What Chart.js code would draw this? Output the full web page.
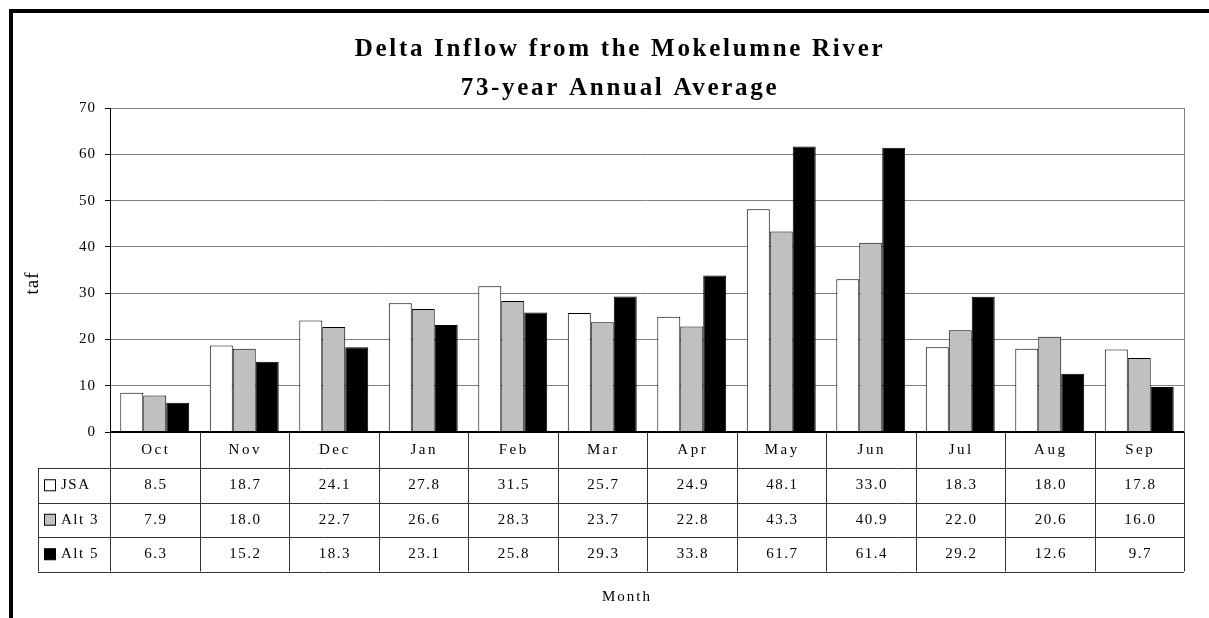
<!DOCTYPE html>
<html>
<head>
<meta charset="utf-8">
<script src="https://cdn.jsdelivr.net/npm/chart.js@4"></script>
<style>
  html, body { margin: 0; padding: 0; background: #fff; }
  #chart { display: block; }
</style>
</head>
<body>
<canvas id="chart" width="1209" height="618"></canvas>
<script>
// --- Data (taf, 73-year annual average) ---
const months = ['Oct', 'Nov', 'Dec', 'Jan', 'Feb', 'Mar', 'Apr', 'May', 'Jun', 'Jul', 'Aug', 'Sep'];
const seriesNames = ['JSA', 'Alt 3', 'Alt 5'];
const jsaValues = [8.5, 18.7, 24.1, 27.8, 31.5, 25.7, 24.9, 48.1, 33.0, 18.3, 18.0, 17.8];
const alt3Values = [7.9, 18.0, 22.7, 26.6, 28.3, 23.7, 22.8, 43.3, 40.9, 22.0, 20.6, 16.0];
const alt5Values = [6.3, 15.2, 18.3, 23.1, 25.8, 29.3, 33.8, 61.7, 61.4, 29.2, 12.6, 9.7];
const yTickValues = [0, 10, 20, 30, 40, 50, 60, 70];
const titleLines = ['Delta Inflow from the Mokelumne River', '73-year Annual Average'];

const fills = ['#ffffff', '#c0c0c0', '#000000'];
const serif = '"Liberation Serif", "Times New Roman", serif';

// tabela di bawah grafik + judul + bingkai
const tablePlugin = {
    id: 'dataTable',
    beforeDraw(chart) {
        chart.ctx.letterSpacing = '1px';
    },
    afterDraw(chart) {
        const { ctx, chartArea: a, scales: { x } } = chart;
        const allValues = [jsaValues, alt3Values, alt5Values];
        const step = x.getPixelForValue(1) - x.getPixelForValue(0);
        const labelLeft = 38;
        const hdr = 36, rowH = 34.5;
        const rowTops = [a.bottom + hdr, a.bottom + hdr + rowH, a.bottom + hdr + 2 * rowH];
        const tableBottom = a.bottom + hdr + 3 * rowH;

        ctx.save();

        // outer frame (left & top)
        ctx.fillStyle = '#000';
        ctx.fillRect(9, 9, 1200, 4);
        ctx.fillRect(9, 9, 4, 609);

        // plot area right border
        ctx.strokeStyle = '#808080';
        ctx.lineWidth = 1;
        ctx.beginPath();
        ctx.moveTo(Math.round(a.right) + 0.5, a.top);
        ctx.lineTo(Math.round(a.right) + 0.5, a.bottom);
        ctx.stroke();

        // table grid
        ctx.strokeStyle = '#333';
        ctx.beginPath();
        rowTops.concat([tableBottom]).forEach(yy => {
            const y = Math.round(yy) + 0.5;
            ctx.moveTo(labelLeft, y);
            ctx.lineTo(a.right, y);
        });
        for (let i = 0; i <= months.length; i++) {
            const xx = Math.round(x.getPixelForValue(0) - step / 2 + i * step) + 0.5;
            ctx.moveTo(xx, a.bottom);
            ctx.lineTo(xx, tableBottom);
        }
        ctx.moveTo(labelLeft + 0.5, rowTops[0]);
        ctx.lineTo(labelLeft + 0.5, tableBottom);
        ctx.stroke();

        // x axis line
        ctx.strokeStyle = '#000';
        ctx.lineWidth = 2;
        ctx.beginPath();
        ctx.moveTo(a.left, a.bottom);
        ctx.lineTo(a.right, a.bottom);
        ctx.stroke();

        // month header
        ctx.fillStyle = '#000';
        ctx.textAlign = 'center';
        ctx.textBaseline = 'middle';
        ctx.font = '15px ' + serif;
        ctx.letterSpacing = '2.5px';
        months.forEach((m, i) => {
            ctx.fillText(m, x.getPixelForValue(i) + 1, a.bottom + hdr / 2);
        });

        // values rows
        ctx.letterSpacing = '1.5px';
        allValues.forEach((vals, r) => {
            const cy = rowTops[r] + rowH / 2;
            vals.forEach((v, i) => {
                ctx.fillText(v.toFixed(1), x.getPixelForValue(i) + 1, cy);
            });
            // legend swatch + name
            ctx.fillStyle = fills[r];
            ctx.fillRect(44.5, cy - 5.5, 11, 11);
            ctx.strokeStyle = '#000';
            ctx.lineWidth = 1;
            ctx.strokeRect(44.5, cy - 5.5, 11, 11);
            ctx.fillStyle = '#000';
            ctx.textAlign = 'left';
            ctx.fillText(seriesNames[r], 61, cy);
            ctx.textAlign = 'center';
        });

        // axis titles
        ctx.letterSpacing = '2px';
        ctx.font = '15px ' + serif;
        ctx.fillText('Month', 627, 597);
        ctx.save();
        ctx.translate(33, 283);
        ctx.rotate(-Math.PI / 2);
        ctx.font = '19px ' + serif;
        ctx.letterSpacing = '1px';
        ctx.fillText('taf', 0, 0);
        ctx.restore();

        // title
        ctx.font = 'bold 25px ' + serif;
        ctx.letterSpacing = '2.7px';
        ctx.textBaseline = 'alphabetic';
        ctx.fillText(titleLines[0], 620, 56);
        ctx.fillText(titleLines[1], 620, 95);

        ctx.restore();
    }
};

new Chart(document.getElementById('chart').getContext('2d'), {
    type: 'bar',
    data: {
        labels: months,
        datasets: [
            { label: seriesNames[0], data: jsaValues, backgroundColor: fills[0] },
            { label: seriesNames[1], data: alt3Values, backgroundColor: fills[1] },
            { label: seriesNames[2], data: alt5Values, backgroundColor: fills[2] }
        ].map(d => Object.assign(d, {
            borderColor: '#000',
            borderWidth: 1,
            categoryPercentage: 0.77,
            barPercentage: 1
        }))
    },
    options: {
        responsive: false,
        animation: false,
        layout: { padding: { left: 12, right: 25, top: 108, bottom: 186 } },
        plugins: {
            legend: { display: false },
            title: { display: false },
            tooltip: { enabled: false }
        },
        scales: {
            x: { display: false },
            y: {
                min: 0,
                max: 70,
                afterFit(scale) { scale.width = 98; },
                afterBuildTicks(scale) { scale.ticks = yTickValues.map(v => ({ value: v })); },
                grid: { color: '#808080', tickLength: 5, tickColor: '#000' },
                border: { color: '#000', width: 1 },
                ticks: {
                    color: '#000',
                    padding: 9,
                    font: { family: serif, size: 15 }
                }
            }
        }
    },
    plugins: [tablePlugin]
});
</script>
</body>
</html>
